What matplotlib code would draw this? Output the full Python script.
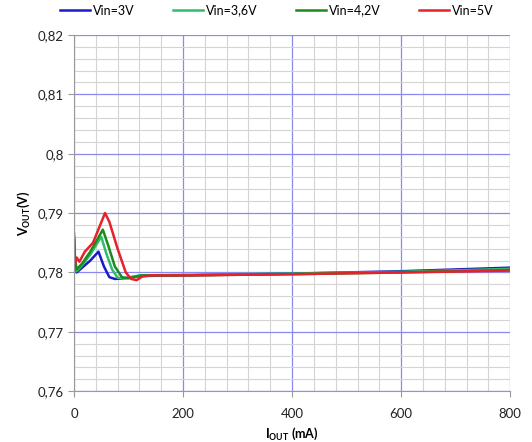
#!/usr/bin/env python3
"""
VOUT vs IOUT, four input voltages
"""

import matplotlib
matplotlib.use('Agg')
import matplotlib.pyplot as plt
from matplotlib.ticker import MultipleLocator, FuncFormatter

plt.rcParams['font.family'] = ['Lato', 'DejaVu Sans']
plt.rcParams['mathtext.fontset'] = 'custom'
plt.rcParams['mathtext.rm'] = 'Lato'
plt.rcParams['mathtext.bf'] = 'Lato:bold'

# data (I in mA, V in volts)
i_3v = [0, 2, 5, 15, 30, 45, 55, 65, 75, 90, 120, 200, 400, 600, 800]
v_3v = [0.7855, 0.7815, 0.7800, 0.7808, 0.7820, 0.7835, 0.7810, 0.7792,
        0.7789, 0.7790, 0.7794, 0.7795, 0.7798, 0.7802, 0.7808]

i_36v = [0, 2, 5, 15, 30, 50, 60, 70, 80, 95, 120, 200, 400, 600, 800]
v_36v = [0.7858, 0.7820, 0.7802, 0.7812, 0.7830, 0.7860, 0.7830, 0.7805,
         0.7791, 0.7790, 0.7795, 0.7796, 0.7798, 0.7801, 0.7806]

i_42v = [0, 2, 5, 15, 30, 53, 63, 75, 88, 100, 125, 200, 400, 600, 800]
v_42v = [0.7860, 0.7822, 0.7805, 0.7815, 0.7835, 0.7872, 0.7845, 0.7810,
         0.7792, 0.7790, 0.7795, 0.7795, 0.7797, 0.7800, 0.7804]

i_5v = [0, 2, 5, 10, 20, 35, 57, 65, 80, 95, 105, 115, 125, 140, 200, 400, 600, 800]
v_5v = [0.7866, 0.7815, 0.7825, 0.7818, 0.7835, 0.7850, 0.7900, 0.7885, 0.7840,
        0.7800, 0.7789, 0.7787, 0.7793, 0.7795, 0.7795, 0.7797, 0.7800, 0.7803]

labels = ['Vin=3V', 'Vin=3,6V', 'Vin=4,2V', 'Vin=5V']
colors = ['#1a1acc', '#2ebd6b', '#1c8a1c', '#e8202a']

fig = plt.figure(figsize=(5.32, 4.42), dpi=100)
ax = fig.add_axes([0.139, 0.115, 0.82, 0.806])

series = [(i_3v, v_3v), (i_36v, v_36v), (i_42v, v_42v), (i_5v, v_5v)]
for (x, y), lab, c in zip(series, labels, colors):
    ax.plot(x, y, color=c, linewidth=1.8, label=lab)

ax.set_xlim(0, 800)
ax.set_ylim(0.76, 0.82)
ax.xaxis.set_major_locator(MultipleLocator(200))
ax.xaxis.set_minor_locator(MultipleLocator(40))
ax.yaxis.set_major_locator(MultipleLocator(0.01))
ax.yaxis.set_minor_locator(MultipleLocator(0.002))
ax.yaxis.set_major_formatter(FuncFormatter(lambda v, p: f'{v:.2f}'.rstrip('0').replace('.', ',')))

ax.grid(True, which='minor', color='#d4d4d4', linewidth=0.8)
ax.grid(True, which='major', color='#8a8af0', linewidth=0.9)
ax.set_axisbelow(True)

for s in ['top', 'right']:
    ax.spines[s].set_visible(False)
for s in ['left', 'bottom']:
    ax.spines[s].set_color('#999999')
ax.tick_params(which='major', length=4, color='#999999', labelsize=9.5, colors='#222222')
ax.tick_params(which='minor', length=0)
ax.tick_params(axis='x', pad=8)

ax.set_xlabel(r'$\mathbf{I_{OUT}}$ (mA)', fontsize=9, fontweight='bold')
ax.set_ylabel(r'$\mathbf{V_{OUT}}$(V)', fontsize=9, fontweight='bold')

ax.legend(loc='lower center', bbox_to_anchor=(0.465, 1.02), ncol=4, frameon=False,
          fontsize=9, handlelength=2.4, handletextpad=0.2, columnspacing=3.1)

plt.savefig('out.png', dpi=100)
